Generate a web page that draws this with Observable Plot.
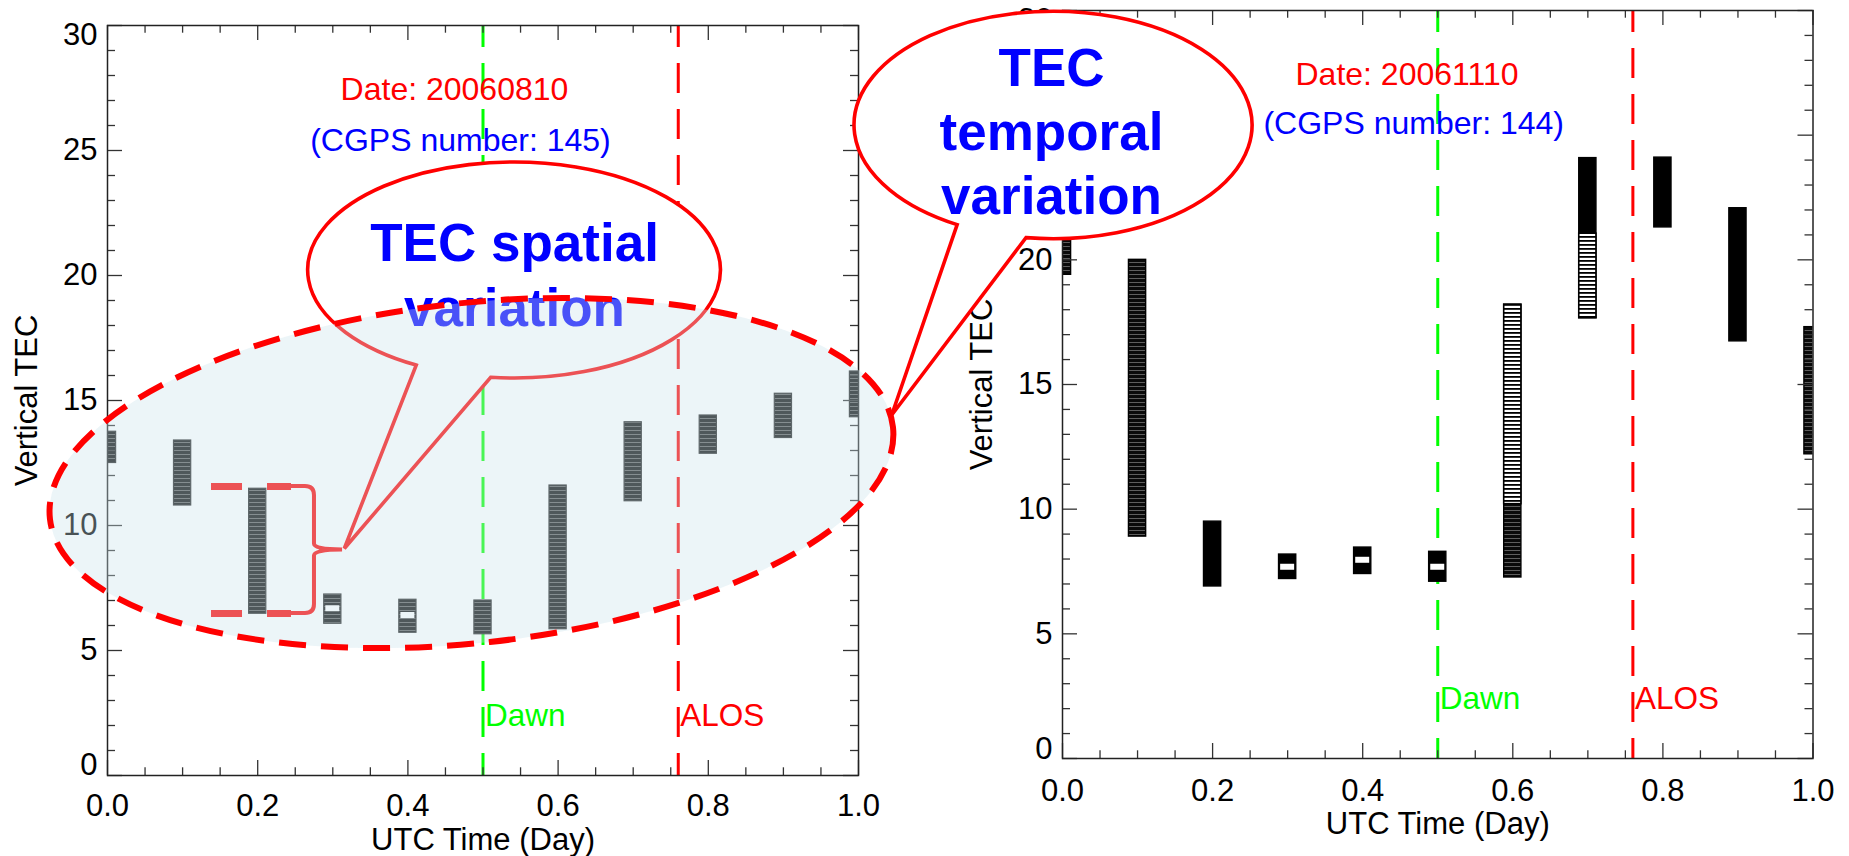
<!DOCTYPE html>
<html>
<head>
<meta charset="utf-8">
<script src="https://cdn.jsdelivr.net/npm/d3@7"></script>
<script src="https://cdn.jsdelivr.net/npm/@observablehq/plot@0.6"></script>
<style>
html, body { margin: 0; padding: 0; background: #fff; }
#wrap { position: relative; width: 1849px; height: 856px; overflow: hidden; }
#wrap > svg { position: absolute; left: 0; top: 0; }
</style>
</head>
<body>
<svg width="0" height="0" style="position:absolute;left:0;top:0">
  <defs>
    <pattern id="pDense" patternUnits="userSpaceOnUse" width="8" height="4">
      <rect width="8" height="4" fill="#0a0a0a"/>
      <rect y="2" width="8" height="1" fill="#5e5e5e"/>
    </pattern>
    <pattern id="pOpen" patternUnits="userSpaceOnUse" width="8" height="4">
      <rect width="8" height="4" fill="#fff"/>
      <rect y="0" width="8" height="1.8" fill="#000"/>
    </pattern>
  </defs>
</svg>
<div id="wrap"></div>
<script>
// ---------------- data ----------------
const utcDay = [0.0, 0.1, 0.2, 0.3, 0.4, 0.5, 0.6, 0.7, 0.8, 0.9, 1.0];

// 2006-08-10 (CGPS number 145): TEC range over all stations at each epoch
const augMin = [12.50, 10.80, 6.47, 6.07, 5.71, 5.65, 5.85, 10.97, 12.87, 13.50, 14.33];
const augMax = [13.75, 13.40, 11.47, 7.24, 7.03, 7.00, 11.60, 14.13, 14.40, 15.27, 16.16];
const augMeanDay = [0.3, 0.4];
const augMean = [6.67, 6.40];

// 2006-11-10 (CGPS number 144)
const novMin = [19.40, 8.90, 6.90, 7.20, 7.40, 7.09, 7.26, 17.66, 21.30, 16.73, 12.20];
const novMax = [21.50, 20.00, 9.50, 8.18, 8.46, 8.29, 18.20, 24.08, 24.10, 22.07, 17.30];
const novPacked = [false, false, true, true, true, true, false, true, true, true, false];
const novSparseDay = [0.6, 0.7];
const novSparseMin = [10.20, 17.66];
const novSparseMax = [18.20, 21.05];
const novMeanDay = [0.3, 0.4, 0.5];
const novMean = [7.67, 7.95, 7.67];

const xMajor = [0, 0.2, 0.4, 0.6, 0.8, 1.0];
const xMinor = [0.05, 0.1, 0.15, 0.25, 0.3, 0.35, 0.45, 0.5, 0.55, 0.65, 0.7, 0.75, 0.85, 0.9, 0.95];
const yMajor = [0, 5, 10, 15, 20, 25, 30];
const yMinor = [1,2,3,4,6,7,8,9,11,12,13,14,16,17,18,19,21,22,23,24,26,27,28,29];

const eventName = ["Dawn", "ALOS"];
const eventDay = [0.5, 0.76];
const panelDate = ["Date: 20060810", "Date: 20061110"];
const panelCgps = ["(CGPS number: 145)", "(CGPS number: 144)"];

// annotation geometry (data units of the left panel)
const spatialBubble = {cx: 0.542, cy: 20.2, rx: 0.2748, ry: 4.32, a1: 96.5, a2: 118.3, tipX: 0.316, tipY: 9.06};
const temporalBubble = {cx: 1.2597, cy: 26.0, rx: 0.265, ry: 4.548, a1: 97.8, a2: 118.8, tipX: 1.0449, tipY: 14.4};
const spreadEllipse = {cx: 0.4853, cy: 12.08, rx: 0.5646, ry: 6.8, angle: -6.2};
const bracket = {x0: 0.1385, x1: 0.245, xv: 0.2756, xt: 0.313, yTop: 11.56, yBot: 6.48, yMid: 9.02};

// ---------------- tables ----------------
const aug = utcDay.map((t, i) => ({t, lo: augMin[i], hi: augMax[i]}));
const augMeans = augMeanDay.map((t, i) => ({t, v: augMean[i]}));
const nov = utcDay.map((t, i) => ({t, lo: novMin[i], hi: novMax[i], packed: novPacked[i]}));
const novSparse = novSparseDay.map((t, i) => ({t, lo: novSparseMin[i], hi: novSparseMax[i]}));
const novMeans = novMeanDay.map((t, i) => ({t, v: novMean[i]}));
const events = eventName.map((name, i) => ({name, t: eventDay[i]}));

const W = 1849, H = 856;
const FONT = "'Liberation Sans', Arial, Helvetica, sans-serif";
const AX = "#333";
const RED = "#ff0000", GREEN = "#00ff00", BLUE = "#0000ff";

function frameTicks(pxPerUnitX, pxPerUnitY) {
  const yl = 15 / pxPerUnitY, ym = 7.7 / pxPerUnitY;
  const xl = 15 / pxPerUnitX, xm = 8 / pxPerUnitX;
  const s = {stroke: AX, strokeWidth: 1.3};
  return [
    Plot.ruleX(xMajor, {x: d => d, y1: 0, y2: yl, ...s}),
    Plot.ruleX(xMajor, {x: d => d, y1: 30, y2: 30 - yl, ...s}),
    Plot.ruleX(xMinor, {x: d => d, y1: 0, y2: ym, ...s}),
    Plot.ruleX(xMinor, {x: d => d, y1: 30, y2: 30 - ym, ...s}),
    Plot.ruleY(yMajor, {y: d => d, x1: 0, x2: xl, ...s}),
    Plot.ruleY(yMajor, {y: d => d, x1: 1, x2: 1 - xl, ...s}),
    Plot.ruleY(yMinor, {y: d => d, x1: 0, x2: xm, ...s}),
    Plot.ruleY(yMinor, {y: d => d, x1: 1, x2: 1 - xm, ...s})
  ];
}

function eventMarks(labelY) {
  const dash = {strokeWidth: 3, strokeDasharray: "30,16", strokeDashoffset: 8};
  return [
    Plot.ruleX([events[0]], {x: "t", stroke: GREEN, ...dash}),
    Plot.ruleX([events[1]], {x: "t", stroke: RED, ...dash}),
    Plot.text([events[0]], {x: "t", y: labelY, text: "name", dx: 2, textAnchor: "start", fill: GREEN, fontSize: 31.5}),
    Plot.text([events[1]], {x: "t", y: labelY, text: "name", dx: 2, textAnchor: "start", fill: RED, fontSize: 31.5})
  ];
}

function axisMarks(xPad, xTitleDy, endShift) {
  const yopt = {tickSize: 0, tickPadding: 10, tickFormat: d => String(d), fontSize: 31, label: null};
  return [
    Plot.axisX(xMajor, {tickSize: 0, tickPadding: xPad, tickFormat: d => d.toFixed(1), fontSize: 31, label: null}),
    Plot.axisY(yMajor.slice(1, -1), yopt),
    Plot.axisY(yMajor.slice(0, 1), {...yopt, dy: -endShift}),
    Plot.axisY(yMajor.slice(-1), {...yopt, dy: endShift}),
    Plot.text(["UTC Time (Day)"], {text: d => d, frameAnchor: "bottom", lineAnchor: "bottom", dy: xTitleDy, fontSize: 31}),
    Plot.text(["Vertical TEC"], {text: d => d, frameAnchor: "left", textAnchor: "middle", lineAnchor: "middle", rotate: -90, dx: -80, fontSize: 31})
  ];
}

const barInset = {insetLeft: -8.6, insetRight: -8.6};
const meanInset = {insetLeft: -7, insetRight: -7, insetTop: -3, insetBottom: -3};

// ---------------- left panel ----------------
const leftM = {marginLeft: 107, marginRight: W - 858, marginTop: 25, marginBottom: H - 775};
const left = Plot.plot({
  width: W, height: H, ...leftM,
  x: {domain: [0, 1]}, y: {domain: [0, 30]},
  style: {background: "transparent", fontFamily: FONT, overflow: "visible", color: "#000"},
  marks: [
    ...eventMarks(2.4),
    Plot.rect(aug, {x1: "t", x2: "t", y1: "lo", y2: "hi", ...barInset, fill: "url(#pDense)", stroke: "#222", strokeWidth: 1.2, clip: true}),
    Plot.rect(augMeans, {x1: "t", x2: "t", y1: "v", y2: "v", ...meanInset, fill: "#fff"}),
    ...frameTicks(751, 25),
    Plot.frame({stroke: "#222", strokeWidth: 1.5}),
    ...axisMarks(18, 74, 10),
    Plot.text([panelDate[0]], {text: d => d, x: 0.462, y: 27.42, fill: RED, fontSize: 32}),
    Plot.text([panelCgps[0]], {text: d => d, x: 0.470, y: 25.4, fill: BLUE, fontSize: 32})
  ]
});

// ---------------- right panel ----------------
const rightM = {marginLeft: 1062, marginRight: W - 1812.5, marginTop: 10, marginBottom: H - 758};
const right = Plot.plot({
  width: W, height: H, ...rightM,
  x: {domain: [0, 1]}, y: {domain: [0, 30]},
  style: {background: "transparent", fontFamily: FONT, overflow: "visible", color: "#000"},
  marks: [
    ...eventMarks(2.4),
    Plot.rect(nov.filter(d => !d.packed), {x1: "t", x2: "t", y1: "lo", y2: "hi", ...barInset, fill: "url(#pDense)", stroke: "#000", strokeWidth: 1.4, clip: true}),
    Plot.rect(nov.filter(d => d.packed), {x1: "t", x2: "t", y1: "lo", y2: "hi", ...barInset, fill: "#000", stroke: "#000", strokeWidth: 1.4, clip: true}),
    Plot.rect(novSparse, {x1: "t", x2: "t", y1: "lo", y2: "hi", ...barInset, fill: "url(#pOpen)", stroke: "#000", strokeWidth: 1.6, clip: true}),
    Plot.rect(novMeans, {x1: "t", x2: "t", y1: "v", y2: "v", ...meanInset, fill: "#fff"}),
    ...frameTicks(750.5, 24.93),
    Plot.frame({stroke: "#222", strokeWidth: 1.5}),
    ...axisMarks(20, 75, 9.5),
    Plot.text([panelDate[1]], {text: d => d, x: 0.459, y: 27.44, fill: RED, fontSize: 32}),
    Plot.text([panelCgps[1]], {text: d => d, x: 0.468, y: 25.46, fill: BLUE, fontSize: 32})
  ]
});

// ---------------- annotation overlay (left panel coordinates) ----------------
function bubblePath(x, y, b) {
  const cx = x(b.cx), cy = y(b.cy);
  const rx = Math.abs(x(b.cx + b.rx) - cx), ry = Math.abs(y(b.cy + b.ry) - cy);
  const P = a => [cx + rx * Math.cos(a * Math.PI / 180), cy + ry * Math.sin(a * Math.PI / 180)];
  const [ax, ay] = P(b.a2), [bx, by] = P(b.a1);
  return `M${ax},${ay}A${rx},${ry} 0 1 1 ${bx},${by}L${x(b.tipX)},${y(b.tipY)}Z`;
}
function bubbleMark(b) {
  return (index, {x, y}) => d3.create("svg:path")
    .attr("d", bubblePath(x, y, b))
    .attr("fill", "#fff").attr("stroke", RED).attr("stroke-width", 3.6)
    .attr("stroke-linejoin", "miter").node();
}
function bracketMark(index, {x, y}) {
  const b = bracket;
  const x1 = x(b.x1), xv = x(b.xv), xt = x(b.xt);
  const yt = y(b.yTop), yb = y(b.yBot), ym = y(b.yMid), r = 9;
  const d = `M${x1},${yt}H${xv - r}Q${xv},${yt} ${xv},${yt + r}V${ym - 6}Q${xv},${ym} ${xt},${ym}` +
            `Q${xv},${ym} ${xv},${ym + 6}V${yb - r}Q${xv},${yb} ${xv - r},${yb}H${x1}`;
  return d3.create("svg:path").attr("d", d).attr("fill", "none")
    .attr("stroke", RED).attr("stroke-width", 4).node();
}
function ellipseMark(index, {x, y}) {
  const e = spreadEllipse;
  const cx = x(e.cx), cy = y(e.cy);
  const rx = Math.abs(x(e.cx + e.rx) - cx), ry = Math.abs(y(e.cy + e.ry) - cy);
  return d3.create("svg:ellipse")
    .attr("cx", cx).attr("cy", cy).attr("rx", rx).attr("ry", ry)
    .attr("transform", `rotate(${e.angle},${cx},${cy})`)
    .attr("fill", "#c9e2ec").attr("fill-opacity", 0.36)
    .attr("stroke", RED).attr("stroke-width", 6).attr("stroke-dasharray", "27,15").node();
}

const overlay = Plot.plot({
  width: W, height: H, ...leftM,
  x: {domain: [0, 1], axis: null}, y: {domain: [0, 30], axis: null},
  style: {background: "transparent", fontFamily: FONT, overflow: "visible"},
  marks: [
    Plot.ruleY([bracket.yTop, bracket.yBot], {y: d => d, x1: bracket.x0, x2: bracket.x1, stroke: RED, strokeWidth: 7, strokeDasharray: "31,25"}),
    bracketMark,
    bubbleMark(spatialBubble),
    Plot.text(["TEC spatial\nvariation"], {text: d => d, x: spatialBubble.cx, y: 20.1, fill: BLUE, fontSize: 53, fontWeight: "bold", lineHeight: 1.21}),
    ellipseMark,
    bubbleMark(temporalBubble),
    Plot.text(["TEC\ntemporal\nvariation"], {text: d => d, x: 1.257, y: 25.85, fill: BLUE, fontSize: 53, fontWeight: "bold", lineHeight: 1.21})
  ]
});

const wrap = document.getElementById("wrap");
wrap.append(left, right, overlay);
</script>
</body>
</html>
